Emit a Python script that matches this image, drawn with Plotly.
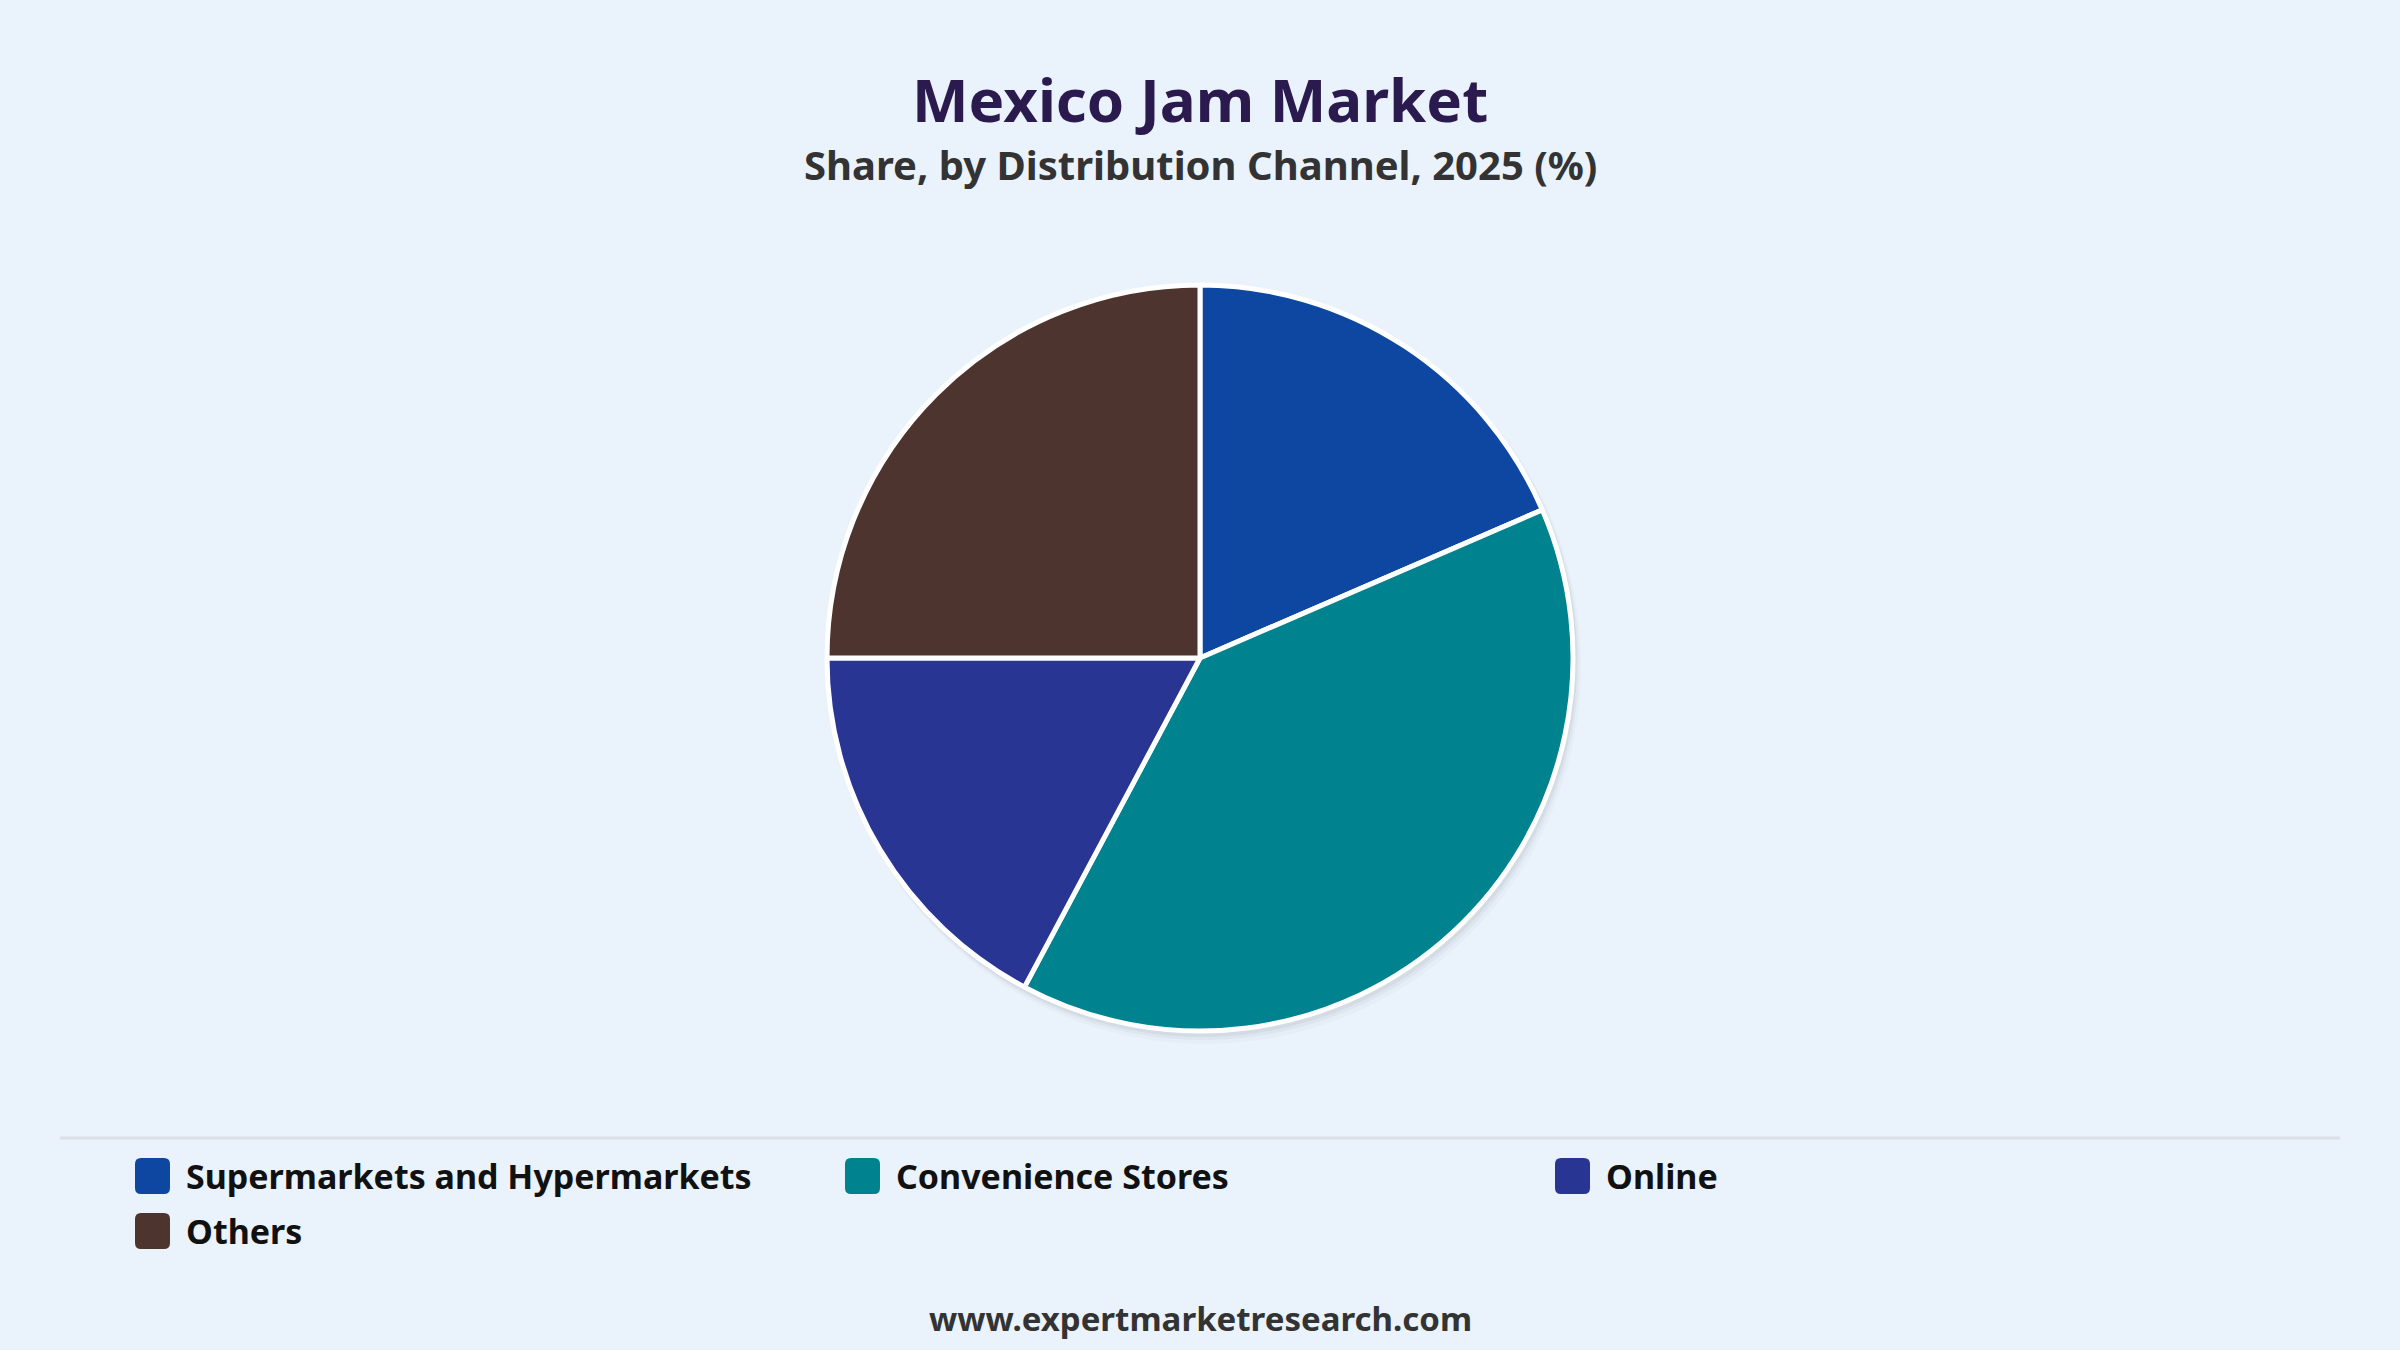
import plotly.graph_objects as go

# dados do gráfico
channels = ["Supermarkets and Hypermarkets", "Convenience Stores", "Online", "Others"]
shares = [18.5, 39.3, 17.2, 25.0]
colors = ["#0D47A1", "#00838F", "#283593", "#4E342E"]

title_text = "Mexico Jam Market"
subtitle_text = "Share, by Distribution Channel, 2025 (%)"
source_text = "www.expertmarketresearch.com"

W, H = 2400, 1350
BG = "#EAF2FC"
FONT = "Noto Sans"

fig = go.Figure()

# pizza principal
fig.add_trace(go.Pie(
    labels=channels,
    values=shares,
    sort=False,
    direction="clockwise",
    rotation=0,
    marker=dict(colors=colors, line=dict(color="white", width=5)),
    textinfo="none",
    hoverinfo="label+percent",
    showlegend=False,
    domain=dict(x=[826 / W, 1574 / W], y=[1 - 1031 / H, 1 - 285 / H]),
))

# eixo invisível em pixels para legenda/decoração
fig.add_trace(go.Scatter(x=[0, W], y=[0, H], mode="markers",
                         marker=dict(opacity=0), hoverinfo="skip", showlegend=False))

shapes = []

# sombra suave atrás da pizza
cx, cy, r = 1200, 658, 374
for off, alpha in [(12, 0.02), (8, 0.03), (5, 0.045)]:
    shapes.append(dict(type="circle", xref="x", yref="y", layer="below",
                       x0=cx - r + off * 0.3, x1=cx + r + off * 0.6,
                       y0=cy - r + off * 0.3, y1=cy + r + off,
                       fillcolor=f"rgba(0,0,0,{alpha})", line=dict(width=0)))

# linha separadora
shapes.append(dict(type="line", xref="x", yref="y", x0=60, x1=2340, y0=1138, y1=1138,
                   line=dict(color="#DCDFE3", width=3)))


def rounded_rect(x0, y0, x1, y1, rad):
    return (f"M{x0 + rad},{y0} L{x1 - rad},{y0} Q{x1},{y0} {x1},{y0 + rad} "
            f"L{x1},{y1 - rad} Q{x1},{y1} {x1 - rad},{y1} L{x0 + rad},{y1} "
            f"Q{x0},{y1} {x0},{y1 - rad} L{x0},{y0 + rad} Q{x0},{y0} {x0 + rad},{y0} Z")


annotations = []
col_x = [135, 845, 1555]
row_y = [1176, 1231]
for i, (name, c) in enumerate(zip(channels, colors)):
    x = col_x[i % 3]
    y = row_y[i // 3]
    shapes.append(dict(type="path", xref="x", yref="y",
                       path=rounded_rect(x, y - 18, x + 35, y + 18, 6),
                       fillcolor=c, line=dict(width=0)))
    annotations.append(dict(x=x + 49, y=y, xref="x", yref="y", text=f"<b>{name}</b>",
                            showarrow=False, xanchor="left", yanchor="middle",
                            font=dict(family=FONT, size=34, color="#111111")))

annotations += [
    dict(x=1200, y=99, xref="x", yref="y", text=f"<b>{title_text}</b>", showarrow=False,
         xanchor="center", yanchor="middle", font=dict(family=FONT, size=60, color="#2B1A4D")),
    dict(x=1200, y=164, xref="x", yref="y", text=f"<b>{subtitle_text}</b>", showarrow=False,
         xanchor="center", yanchor="middle", font=dict(family=FONT, size=40, color="#333333")),
    dict(x=1200, y=1318, xref="x", yref="y", text=f"<b>{source_text}</b>", showarrow=False,
         xanchor="center", yanchor="middle", font=dict(family=FONT, size=33, color="#333333")),
]

fig.update_layout(
    width=W, height=H,
    margin=dict(l=0, r=0, t=0, b=0),
    paper_bgcolor=BG, plot_bgcolor=BG,
    xaxis=dict(range=[0, W], visible=False, fixedrange=True),
    yaxis=dict(range=[H, 0], visible=False, fixedrange=True),
    shapes=shapes,
    annotations=annotations,
    showlegend=False,
)

# tira a margem padrão do body da página
fig.write_html("out.html", config={"displayModeBar": False},
               post_script="document.body.style.margin='0';"
                           "document.body.style.background='#EAF2FC';")
